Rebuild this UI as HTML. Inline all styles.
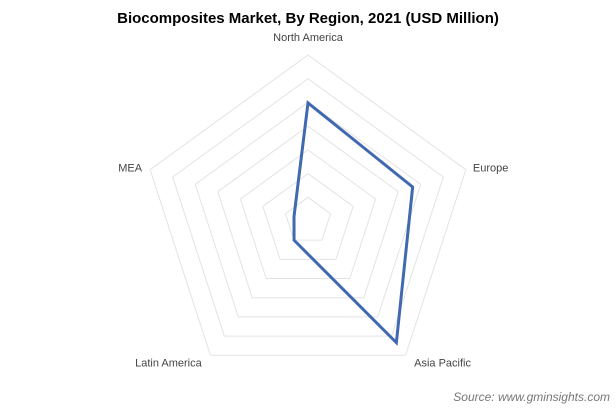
<!DOCTYPE html>
<html><head><meta charset="utf-8"><style>
body{margin:0;background:#fff;font-family:"Liberation Sans",sans-serif}
svg text{font-family:"Liberation Sans",sans-serif}
</style></head><body>
<svg width="616" height="411">
<text x="308" y="23" text-anchor="middle" font-size="15" font-weight="bold" fill="#000">Biocomposites Market, By Region, 2021 (USD Million)</text>
<g id="grid"></g>
<g id="labels"></g>
<polygon id="series" fill="none" stroke="#4169b0" stroke-width="3"/>
<text x="610" y="401" text-anchor="end" font-size="12" font-style="italic" fill="#777">Source: www.gminsights.com</text>
</svg>
<script>
const categories=["North America","Europe","Asia Pacific","Latin America","MEA"];
const values=[498,464,634,100,62];
const maxVal=700, rings=7;
const cx=308, cy=221, R=166;
const ns="http://www.w3.org/2000/svg";
function pt(i,v){const a=-Math.PI/2+i*2*Math.PI/5;const r=v/maxVal*R;return [cx+r*Math.cos(a),cy+r*Math.sin(a)];}
const g=document.getElementById('grid');
for(let k=1;k<=rings;k++){
  const p=document.createElementNS(ns,'polygon');
  
  
  p.setAttribute('points',categories.map((c,i)=>pt(i,maxVal*k/rings).join(',')).join(' '));
  p.setAttribute('fill','none');p.setAttribute('stroke','#e3e3e3');p.setAttribute('stroke-width','1');
  g.appendChild(p);
}
const lg=document.getElementById('labels');
const off=[[0,-14,'middle'],[7,2,'start'],[37,11,'middle'],[-42,11,'middle'],[-8,2,'end']];
categories.forEach((c,i)=>{
  const [x,y]=pt(i,maxVal);
  const t=document.createElementNS(ns,'text');
  
  
  t.setAttribute('x',x+off[i][0]);t.setAttribute('y',y+off[i][1]);
  t.setAttribute('text-anchor',off[i][2]);t.setAttribute('font-size','11');t.setAttribute('fill','#444');
  t.textContent=c;lg.appendChild(t);
});
document.getElementById('series').setAttribute('points',values.map((v,i)=>pt(i,v).join(',')).join(' '));
</script>
</body></html>
